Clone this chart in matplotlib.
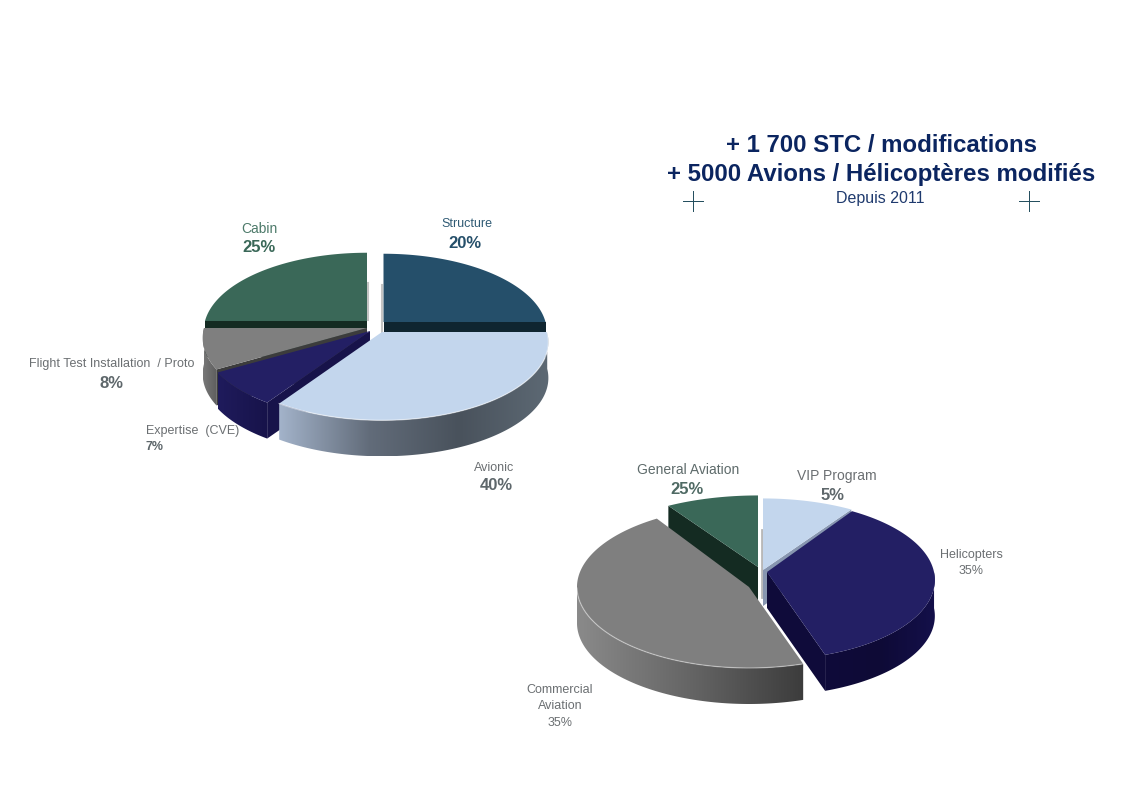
import numpy as np
import matplotlib
matplotlib.use("Agg")
import matplotlib.pyplot as plt
from matplotlib.colors import LinearSegmentedColormap
from matplotlib.patches import Polygon

plt.rcParams['font.family'] = ['Liberation Sans', 'DejaVu Sans']

# share of each slice as drawn (the printed labels differ, as in the original)
services = ["Structure", "Avionic", "Expertise", "Flight", "Cabin"]
services_share = [25, 34.4, 7.2, 8.4, 25]
markets = ["VIP", "Helicopters", "Commercial", "General"]
markets_share = [9.3, 35.6, 46.1, 9.0]

title_lines = ["+ 1 700 STC / modifications", "+ 5000 Avions / Hélicoptères modifiés"]
subtitle = "Depuis 2011"

# slice geometry in pixels: apex x, apex y, x radius, y radius, perspective
services_geom = [(383.5, 322, 162, 77, .128), (382, 332, 165, 77, .128), (370, 331, 165, 77, .128),
                 (367, 328, 163, 77, .128), (367, 321, 162, 77, .128)]
markets_geom = [(763, 570, 172, 78, .09), (767, 572, 167, 79, .1), (749, 587, 172, 81, 0),
                (758, 567, 180, 78, .09)]
depth = 36

# top colour, cut face colour, wall gradient, rim highlight
services_style = [
    ("#254f6a", "#0f2530", ["#1d3d52", "#1d3d52"], 0),
    ("#c3d6ed", "#6d7a8c", ["#a3b3ca", "#626c7a", "#49525c", "#5d6974"], .5),
    ("#231f64", "#17134a", ["#1f1b5c", "#17134a"], 0),
    ("#7f7f7f", "#3c3c3c", ["#787878", "#5e5e5e"], 0),
    ("#3a6858", "#142b22", ["#2c5244", "#2c5244"], 0),
]
markets_style = [
    ("#c3d6ed", "#8796b0", ["#a3b3ca", "#8796b0"], 0),
    ("#231f64", "#0f0b3a", ["#0f0b3a", "#0e0a36", "#14104a"], 0),
    ("#7f7f7f", "#555555", ["#8a8a8a", "#656565", "#3c3c3c"], .4),
    ("#3a6858", "#142b22", ["#2c5244", "#2c5244"], 0),
]


def rim(t, geom):
    ax_, ay, rx, ry, p = geom
    w = 1 + p * np.sin(t)
    return ax_ + rx * np.cos(t) / w, ay - ry * np.sin(t) / w


def draw_slice(ax, t1, t2, geom, style):
    top, cut_col, wall_cols, rim_alpha = style
    t = np.linspace(t1, t2, 200)
    x, y = rim(t, geom)
    ax_, ay = geom[0], geom[1]
    front = np.sin(t) < 0

    # outer wall with a left to right gradient, only on the front half
    if front.any():
        fx, fy = x[front], y[front]
        wall = Polygon(np.column_stack([np.r_[fx, fx[::-1]], np.r_[fy, fy[::-1] + depth]]),
                       closed=True, transform=ax.transData, fc="none", ec="none")
        ax.add_patch(wall)
        cmap = LinearSegmentedColormap.from_list("wall", wall_cols)
        im = ax.imshow(np.linspace(0, 1, 256).reshape(1, -1), cmap=cmap, aspect="auto", zorder=3,
                       extent=(fx.min(), fx.max(), fy.max() + depth, fy.min()), interpolation="bilinear")
        im.set_clip_path(wall)

    # cut faces, only the ones turned towards the viewer
    tm = (t1 + t2) / 2
    mx, my = rim(np.array([tm]), geom)
    for a in (t1, t2):
        ex, ey = rim(np.array([a]), geom)
        d = np.array([ex[0] - ax_, ey[0] - ay])
        n = np.array([-d[1], d[0]])
        if n @ np.array([mx[0] - ax_, my[0] - ay]) > 0:
            n = -n
        if n[1] > 0:
            ax.fill([ax_, ex[0], ex[0], ax_], [ay, ey[0], ey[0] + depth, ay + depth],
                    color=cut_col, lw=0, zorder=3)

    # top face and a light rim
    ax.fill(np.r_[ax_, x], np.r_[ay, y], color=top, lw=0, zorder=3)
    if rim_alpha and front.any():
        ax.plot(x[front], y[front], color="white", alpha=rim_alpha, lw=.9, zorder=3)


def draw_pie(ax, shares, geoms, styles, order):
    shares = np.array(shares, dtype=float)
    edges = np.pi / 2 - 2 * np.pi * np.r_[0, np.cumsum(shares)] / shares.sum()
    for i in order:
        draw_slice(ax, edges[i + 1], edges[i], geoms[i], styles[i])


fig = plt.figure(figsize=(11.21, 7.95), dpi=100)
ax = fig.add_axes([0, 0, 1, 1])

draw_pie(ax, services_share, services_geom, services_style, [0, 4, 3, 2, 1])
draw_pie(ax, markets_share, markets_geom, markets_style, [3, 0, 2, 1])

# small shadows in the gaps
ax.plot([367.5, 367.5], [283, 320], color="#c4c4c4", lw=1.5, zorder=2)
ax.plot([381.5, 381.5], [285, 332], color="#c4c4c4", lw=1.5, zorder=2)
ax.plot([762, 762], [530, 597], color="#b8b8b8", lw=2, zorder=2)

ax.set_xlim(0, 1121)
ax.set_ylim(795, 0)
ax.axis("off")

# heading
navy = "#0b2560"
ax.text(881, 146, title_lines[0], color=navy, fontsize=17.3, fontweight="bold", ha="center", va="center")
ax.text(881, 175, title_lines[1], color=navy, fontsize=17.3, fontweight="bold", ha="center", va="center")
ax.text(880, 199, subtitle, color="#1f3a6e", fontsize=11.5, ha="center", va="center")
for cx in (693, 1029):
    ax.plot([cx - 10, cx + 10], [201, 201], color="#1e4a5a", lw=.7)
    ax.plot([cx, cx], [191, 211], color="#1e4a5a", lw=.7)

# slice labels: text, x, y, size, weight, colour, alignment
grey = "#6b6f72"
labels = [
    ("Cabin", 259, 229, 10, "normal", "#4d7a6a", "center"),
    ("25%", 259, 248, 12, "bold", "#3a6858", "center"),
    ("Structure", 467, 224, 9, "normal", "#2f5a74", "center"),
    ("20%", 465, 243, 12, "bold", "#254f6a", "center"),
    ("Flight Test Installation  / Proto", 112, 364, 9, "normal", grey, "center"),
    ("8%", 111, 383, 12, "bold", "#5e676b", "center"),
    ("Expertise  (CVE)", 146, 431, 9, "normal", grey, "left"),
    ("7%", 146, 447, 9, "bold", "#5e676b", "left"),
    ("Avionic", 494, 468, 9, "normal", grey, "center"),
    ("40%", 496, 486, 12, "bold", "#5e676b", "center"),
    ("General Aviation", 688, 470, 10, "normal", "#5e6b6b", "center"),
    ("25%", 687, 490, 12, "bold", "#4f6a64", "center"),
    ("VIP Program", 837, 476, 10, "normal", grey, "center"),
    ("5%", 833, 496, 12, "bold", "#5e676b", "center"),
    ("Helicopters", 971, 555, 9, "normal", grey, "center"),
    ("35%", 971, 571, 9, "normal", grey, "center"),
    ("Commercial", 560, 690, 9, "normal", grey, "center"),
    ("Aviation", 560, 706, 9, "normal", grey, "center"),
    ("35%", 560, 723, 9, "normal", grey, "center"),
]
for txt, x, y, size, weight, col, ha in labels:
    ax.text(x, y, txt, fontsize=size, fontweight=weight, color=col, ha=ha, va="center")

fig.savefig("out.png", dpi=100, facecolor="white")
